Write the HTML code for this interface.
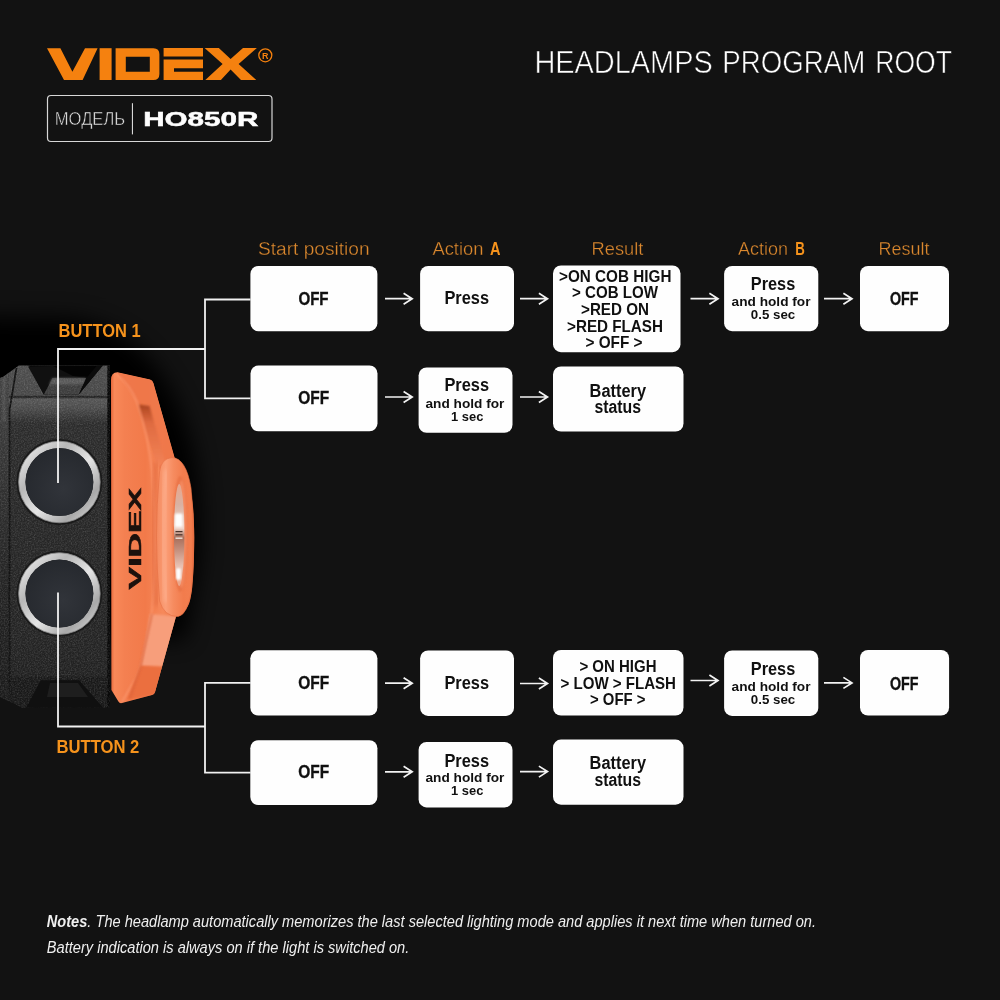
<!DOCTYPE html>
<html><head><meta charset="utf-8"><title>Headlamps program root</title>
<style>
html,body{margin:0;padding:0;background:#121212;}
body{width:1000px;height:1000px;overflow:hidden;font-family:"Liberation Sans",sans-serif;}
svg{display:block;font-family:"Liberation Sans",sans-serif;}
</style></head><body>
<svg width="1000" height="1000" viewBox="0 0 1000 1000">
<rect width="1000" height="1000" fill="#121212"/>
<g style="will-change:opacity" opacity="0.9999">
<defs>
<filter id="blurBig" x="-50%" y="-50%" width="200%" height="200%"><feGaussianBlur stdDeviation="11"/></filter>
<filter id="blur1" x="-20%" y="-20%" width="140%" height="140%"><feGaussianBlur stdDeviation="1"/></filter>
<filter id="blur2" x="-20%" y="-20%" width="140%" height="140%"><feGaussianBlur stdDeviation="2.2"/></filter>
<filter id="blur4" x="-30%" y="-30%" width="160%" height="160%"><feGaussianBlur stdDeviation="4"/></filter>
<filter id="grain" x="0" y="0" width="100%" height="100%">
  <feTurbulence type="fractalNoise" baseFrequency="0.7" numOctaves="2" seed="7" result="n"/>
  <feColorMatrix in="n" type="matrix" values="0 0 0 0 1  0 0 0 0 1  0 0 0 0 1  0.9 0.9 0.9 0 -1.15" result="a"/>
  <feComposite in="a" in2="SourceGraphic" operator="in"/>
</filter>
<linearGradient id="bodyV" x1="0" y1="365" x2="0" y2="708" gradientUnits="userSpaceOnUse">
  <stop offset="0" stop-color="#4e4e4e"/>
  <stop offset="0.088" stop-color="#484848"/>
  <stop offset="0.093" stop-color="#1a1a1a"/>
  <stop offset="0.099" stop-color="#565656"/>
  <stop offset="0.125" stop-color="#4c4c4c"/>
  <stop offset="0.17" stop-color="#2d2d2d"/>
  <stop offset="0.5" stop-color="#282828"/>
  <stop offset="0.8" stop-color="#252525"/>
  <stop offset="0.905" stop-color="#222222"/>
  <stop offset="0.912" stop-color="#1a1a1a"/>
  <stop offset="1" stop-color="#191919"/>
</linearGradient>
<linearGradient id="orangeH" x1="111" y1="0" x2="180" y2="0" gradientUnits="userSpaceOnUse">
  <stop offset="0" stop-color="#e8693c"/>
  <stop offset="0.05" stop-color="#fa8a5a"/>
  <stop offset="0.2" stop-color="#f58152"/>
  <stop offset="0.5" stop-color="#f37b4b"/>
  <stop offset="0.75" stop-color="#f78a5c"/>
  <stop offset="1" stop-color="#ee7444"/>
</linearGradient>
<linearGradient id="ringH" x1="150" y1="0" x2="195" y2="0" gradientUnits="userSpaceOnUse">
  <stop offset="0" stop-color="#f68a5c"/>
  <stop offset="0.35" stop-color="#fb9468"/>
  <stop offset="0.6" stop-color="#f37d4e"/>
  <stop offset="0.85" stop-color="#f58252"/>
  <stop offset="1" stop-color="#e56a3c"/>
</linearGradient>
<linearGradient id="ringH2" x1="156" y1="0" x2="195" y2="0" gradientUnits="userSpaceOnUse">
  <stop offset="0" stop-color="#f58a5e"/>
  <stop offset="0.25" stop-color="#fc9f78"/>
  <stop offset="0.45" stop-color="#f78c60"/>
  <stop offset="0.7" stop-color="#f37d4e"/>
  <stop offset="0.9" stop-color="#f47f50"/>
  <stop offset="1" stop-color="#e3683a"/>
</linearGradient>
<linearGradient id="silver" x1="0" y1="0" x2="1" y2="1">
  <stop offset="0" stop-color="#f2f2f2"/>
  <stop offset="0.3" stop-color="#b9b9b9"/>
  <stop offset="0.55" stop-color="#e6e6e6"/>
  <stop offset="0.8" stop-color="#a9a9a9"/>
  <stop offset="1" stop-color="#dedede"/>
</linearGradient>
<radialGradient id="btn" cx="0.55" cy="0.6" r="0.7">
  <stop offset="0" stop-color="#32353b"/>
  <stop offset="1" stop-color="#25282d"/>
</radialGradient>
<linearGradient id="lens" x1="0" y1="486" x2="0" y2="580" gradientUnits="userSpaceOnUse">
  <stop offset="0" stop-color="#e9a88e"/>
  <stop offset="0.2" stop-color="#d9b3a4"/>
  <stop offset="0.45" stop-color="#f0d6cc"/>
  <stop offset="0.55" stop-color="#a8705c"/>
  <stop offset="0.7" stop-color="#c99684"/>
  <stop offset="0.85" stop-color="#e8c2b4"/>
  <stop offset="1" stop-color="#eda88c"/>
</linearGradient>
<clipPath id="orangeClip"><path d="M111 380 Q111 372.5 117.5 372.3 L150 379.4 Q152.6 380 153.4 383 L175 459 Q194 470 194.2 537 Q194 596 188 606 Q183 614 176 616.5 L155 692 Q154.4 694.4 152 695 L122 703 Q119.6 703.6 118.4 701.6 L111.4 690 Z"/></clipPath>
<clipPath id="bodyClip"><path d="M0 378 L3 377 L18.8 365.6 H110 V707.8 H22 L0 697 Z"/></clipPath>
</defs>
<!-- dark halo behind photo -->
<path d="M-40 316 L70 318 Q120 325 150 360 Q180 395 193 450 Q204 500 200 560 L185 640 L-40 640 Z" fill="#000" filter="url(#blurBig)"/>
<!-- body -->
<g clip-path="url(#bodyClip)">
  <rect x="0" y="360" width="112" height="350" fill="url(#bodyV)"/>
  <!-- left bevel strip -->
  <linearGradient id="stripV" x1="0" y1="372" x2="0" y2="702" gradientUnits="userSpaceOnUse"><stop offset="0" stop-color="#444"/><stop offset="0.3" stop-color="#343434"/><stop offset="0.6" stop-color="#262626"/><stop offset="1" stop-color="#1c1c1c"/></linearGradient><rect x="0" y="372" width="9" height="330" fill="url(#stripV)"/>
  <rect x="2.5" y="376" width="3" height="45" fill="#5a5a5a" opacity="0.7" filter="url(#blur1)"/>
  <path d="M16.5 368 L9.5 410 V690" fill="none" stroke="#121212" stroke-width="1.8"/>
  <!-- right dark edge -->
  <rect x="107.3" y="360" width="5" height="350" fill="#0a0a0a"/>
  <!-- grain -->
  <rect x="0" y="360" width="112" height="350" fill="#fff" filter="url(#grain)" opacity="0.2"/>
  <!-- top notch (open to black background) -->
  <path d="M28 364 L43.8 394.6 H78.8 L103.8 364 Z" fill="#040404"/>
  <path d="M28 366.5 L53 366 L72.5 375.8 L86.3 378 L52.5 378 L43.8 394.6 Z" fill="#111111"/>
  <path d="M52.5 378 H86.3 L78.8 394.6 H43.8 Z" fill="#3e3e3e"/>
  <path d="M52.5 378 H86.3 L83.5 384.5 H49 Z" fill="#5a5a5a" filter="url(#blur1)"/>
  <path d="M52.5 378 H86.3 L78.8 394.6 H43.8 Z" fill="#fff" filter="url(#grain)" opacity="0.16"/>
  <path d="M86.3 378 L96.5 366 L103.8 364.5 L78.8 394.6 Z" fill="#0c0c0c"/>
  <!-- bottom notch -->
  <path d="M40.7 680.3 H79.2 L103.4 708 H26 Z" fill="#111111"/>
  <path d="M50 683 H78 L88 697 H47 Z" fill="#1f1f1f"/>
</g>
<!-- orange part -->
<path d="M111 380 Q111 372.5 117.5 372.3 L150 379.4 Q152.6 380 153.4 383 L175 459 Q194 470 194.2 537 Q194 596 188 606 Q183 614 176 616.5 L155 692 Q154.4 694.4 152 695 L122 703 Q119.6 703.6 118.4 701.6 L111.4 690 Z" fill="url(#orangeH)"/>
<g clip-path="url(#orangeClip)">
<!-- face ridge / recess shading -->
<linearGradient id="slotV" x1="0" y1="404" x2="0" y2="468" gradientUnits="userSpaceOnUse"><stop offset="0" stop-color="#a84422"/><stop offset="0.12" stop-color="#c2552e"/><stop offset="0.3" stop-color="#e06c42"/><stop offset="1" stop-color="#f58558"/></linearGradient>
<path d="M117 372.5 L150 379.5 Q152.6 380 153.4 383 L175 459 L160 470 L150 443 L136 400 Z" fill="#ef784a" opacity="0.9"/>
<path d="M138.7 404.5 L149.5 406 L162 450 L165 462 L157 468 L151 446 L140.5 414 Z" fill="url(#slotV)" filter="url(#blur1)"/>
<path d="M116.5 374 Q130 385 137 402 Q148 435 152 470 Q157 540 153 600 Q148 650 136 678 L122 702" fill="none" stroke="#ffa079" stroke-width="2.2" opacity="0.55" filter="url(#blur1)"/>
<path d="M113.5 380 V690" fill="none" stroke="#ff9c72" stroke-width="2.5" opacity="0.6" filter="url(#blur1)"/>
<!-- lower recess -->
<path d="M150 614 L180 616.5 L166 667 L140.8 666 Z" fill="#f89f7c" filter="url(#blur1)"/>
<path d="M140.8 666 L168 667 L158 694 L127 700 Z" fill="#ec6f40" filter="url(#blur1)"/>
<path d="M152 614 L140.5 667 L130 698" fill="none" stroke="#d9623a" stroke-width="1.6" opacity="0.8" filter="url(#blur1)"/>
</g>
<!-- lens ring -->
<path d="M156 462 Q150 537 157 606" fill="none" stroke="#e0683c" stroke-width="5" opacity="0.55" filter="url(#blur2)"/>
<path d="M159.5 472 Q161 458.5 172 457.6 Q186 458 191 488 Q196.5 537 191.5 590 Q187.5 615 178 616.6 Q164 616.5 159.6 601 Q153.5 537 159.5 472 Z" fill="url(#ringH2)"/>
<path d="M159.5 472 Q161 458.5 172 457.6 Q186 458 191 488 Q196.5 537 191.5 590 Q187.5 615 178 616.6 Q164 616.5 159.6 601 Q153.5 537 159.5 472 Z" fill="none" stroke="#e67044" stroke-width="1" opacity="0.6"/>
<path d="M166 470 Q160 537 166 602" fill="none" stroke="#ffb596" stroke-width="4" opacity="0.7" filter="url(#blur2)"/>
<ellipse cx="180.2" cy="534" rx="7.2" ry="58" fill="#ea7346" filter="url(#blur1)"/>
<ellipse cx="181.5" cy="534" rx="5.2" ry="54" fill="#f58a60" filter="url(#blur1)"/>
<ellipse cx="179.2" cy="535" rx="5.2" ry="51" fill="url(#lens)"/>
<rect x="174.8" y="513.5" width="7.8" height="13.5" rx="1.5" fill="#ffffff" filter="url(#blur1)"/>
<rect x="176" y="568" width="5" height="12" rx="2" fill="#ffffff" filter="url(#blur1)"/>
<rect x="175.5" y="531" width="7" height="1.2" fill="#4a342c"/><rect x="175.5" y="534.2" width="7" height="1.2" fill="#4a342c"/><rect x="175.5" y="537.4" width="7" height="1.6" fill="#e8d8d0"/>
<!-- VIDEX on lamp -->
<text transform="translate(141.3 589.4) rotate(-90)" font-size="16.6" font-weight="bold" fill="#1d120e" stroke="#1d120e" stroke-width="0.5" textLength="101.5" lengthAdjust="spacingAndGlyphs">VIDEX</text>
<!-- buttons -->
<circle cx="59.4" cy="482" r="43" fill="#1b1b1b"/>
<circle cx="59.4" cy="482" r="37.3" fill="none" stroke="url(#silver)" stroke-width="7"/>
<circle cx="59.4" cy="482" r="40.8" fill="none" stroke="#8a8a8a" stroke-width="0.8"/>
<circle cx="59.4" cy="482" r="34" fill="url(#btn)"/>
<circle cx="59.4" cy="593.6" r="43" fill="#1b1b1b"/>
<circle cx="59.4" cy="593.6" r="37.3" fill="none" stroke="url(#silver)" stroke-width="7"/>
<circle cx="59.4" cy="593.6" r="40.8" fill="none" stroke="#8a8a8a" stroke-width="0.8"/>
<circle cx="59.4" cy="593.6" r="34" fill="url(#btn)"/>

<g fill="#f6820f">
<path d="M47 48.2 H60.4 L72.4 71.8 L85 48.2 H97.6 L82.6 80 H64 Z"/>
<rect x="99.6" y="48.2" width="12" height="31.8"/>
<path fill-rule="evenodd" d="M115.6 48.2 H153.4 Q159.4 48.2 159.4 54.2 V74 Q159.4 80 153.4 80 H115.6 Z M125.8 56.8 V71.8 H149.8 V56.8 Z"/>
<path d="M163.6 48 H203 V56.6 H163.6 Z M163.6 59.5 H203 V68.3 H174 V71.8 H203 V80 H163.6 Z"/>
<path d="M204.6 48 H218.8 L230.6 59 L243 48 H256.9 L238.6 64 L256.3 80 H241 L230.6 69.5 L220.9 80 H205.3 L222.6 64 Z"/>
</g>
<circle cx="265.3" cy="55.3" r="6.5" fill="none" stroke="#f6820f" stroke-width="1.3"/>
<text x="265.3" y="58.6" font-size="9" font-weight="bold" fill="#f6820f" text-anchor="middle">R</text>

<rect x="47.5" y="95.5" width="224.5" height="46" rx="3.5" fill="none" stroke="#d8d8d8" stroke-width="1.2"/>
<rect x="131.9" y="103.2" width="1.1" height="31.2" fill="#d8d8d8"/>
<text x="54.80" y="124.80" font-size="18.4" font-weight="normal" fill="#e2e2e2" textLength="70.40" lengthAdjust="spacingAndGlyphs"  stroke="#121212" stroke-width="0.5">МОДЕЛЬ</text>
<text x="143.20" y="125.80" font-size="19.6" font-weight="bold" fill="#ffffff" textLength="115.20" lengthAdjust="spacingAndGlyphs"  stroke="#ffffff" stroke-width="0.5">HO850R</text>
<text x="534.40" y="72.80" font-size="31.4" font-weight="normal" fill="#ffffff" textLength="178.40" lengthAdjust="spacingAndGlyphs"  stroke="#121212" stroke-width="0.6">HEADLAMPS</text>
<text x="722.30" y="72.80" font-size="31.4" font-weight="normal" fill="#ffffff" textLength="142.90" lengthAdjust="spacingAndGlyphs"  stroke="#121212" stroke-width="0.6">PROGRAM</text>
<text x="875.30" y="72.80" font-size="31.4" font-weight="normal" fill="#ffffff" textLength="76.60" lengthAdjust="spacingAndGlyphs"  stroke="#121212" stroke-width="0.6">ROOT</text>
<text x="258.00" y="254.60" font-size="18" font-weight="normal" fill="#dd8a30" textLength="111.60" lengthAdjust="spacingAndGlyphs"  stroke="#121212" stroke-width="0.3">Start position</text>
<text x="432.40" y="255.00" font-size="18" font-weight="normal" fill="#dd8a30" textLength="51.00" lengthAdjust="spacingAndGlyphs"  stroke="#121212" stroke-width="0.3">Action</text>
<text x="490.00" y="255.00" font-size="18" font-weight="bold" fill="#f7941d" textLength="10.50" lengthAdjust="spacingAndGlyphs"  >A</text>
<text x="591.60" y="255.20" font-size="18" font-weight="normal" fill="#dd8a30" textLength="51.80" lengthAdjust="spacingAndGlyphs"  stroke="#121212" stroke-width="0.3">Result</text>
<text x="738.00" y="255.20" font-size="18" font-weight="normal" fill="#dd8a30" textLength="50.00" lengthAdjust="spacingAndGlyphs"  stroke="#121212" stroke-width="0.3">Action</text>
<text x="795.20" y="255.20" font-size="18" font-weight="bold" fill="#f7941d" textLength="9.60" lengthAdjust="spacingAndGlyphs"  >B</text>
<text x="878.40" y="255.20" font-size="18" font-weight="normal" fill="#dd8a30" textLength="51.00" lengthAdjust="spacingAndGlyphs"  stroke="#121212" stroke-width="0.3">Result</text>
<text x="58.60" y="337.00" font-size="18.6" font-weight="bold" fill="#f7941d" textLength="82.00" lengthAdjust="spacingAndGlyphs"  >BUTTON 1</text>
<text x="56.40" y="752.80" font-size="18.6" font-weight="bold" fill="#f7941d" textLength="83.00" lengthAdjust="spacingAndGlyphs"  >BUTTON 2</text>
<path d="M58 483 V349 H205 M250.5 299.5 H205 V398.3 H250.5" fill="none" stroke="#f2f2f2" stroke-width="1.8"/>
<path d="M58 592.5 V726.5 H205 M250.5 682.8 H205 V772.6 H250.5" fill="none" stroke="#f2f2f2" stroke-width="1.8"/>
<rect x="250.4" y="266" width="127.00" height="65.20" rx="8" ry="8" fill="#ffffff"/>
<text x="298.40" y="305.00" font-size="18" font-weight="bold" fill="#111111" textLength="30.20" lengthAdjust="spacingAndGlyphs"  stroke="#111111" stroke-width="0.35">OFF</text>
<path d="M385 298.7 H411.7 M403.59999999999997 293.2 L412.2 298.7 L403.59999999999997 304.2" fill="none" stroke="#f4f4f4" stroke-width="1.7" stroke-linejoin="miter"/>
<rect x="420.1" y="266" width="93.90" height="65.20" rx="8" ry="8" fill="#ffffff"/>
<text x="444.40" y="304.40" font-size="18" font-weight="bold" fill="#111111" textLength="44.70" lengthAdjust="spacingAndGlyphs"  >Press</text>
<path d="M520 298.7 H547.0 M538.9 293.2 L547.5 298.7 L538.9 304.2" fill="none" stroke="#f4f4f4" stroke-width="1.7" stroke-linejoin="miter"/>
<rect x="553" y="265.4" width="127.50" height="86.80" rx="8" ry="8" fill="#ffffff"/>
<text x="559.00" y="281.60" font-size="16.5" font-weight="bold" fill="#111111" textLength="112.50" lengthAdjust="spacingAndGlyphs"  >&gt;ON COB HIGH</text>
<text x="572.00" y="297.90" font-size="16.5" font-weight="bold" fill="#111111" textLength="86.00" lengthAdjust="spacingAndGlyphs"  >&gt; COB LOW</text>
<text x="581.00" y="315.00" font-size="16.5" font-weight="bold" fill="#111111" textLength="68.00" lengthAdjust="spacingAndGlyphs"  >&gt;RED ON</text>
<text x="567.00" y="331.70" font-size="16.5" font-weight="bold" fill="#111111" textLength="96.00" lengthAdjust="spacingAndGlyphs"  >&gt;RED FLASH</text>
<text x="585.50" y="348.20" font-size="16.5" font-weight="bold" fill="#111111" textLength="57.00" lengthAdjust="spacingAndGlyphs"  >&gt; OFF &gt;</text>
<path d="M690.5 298.7 H717.5 M709.4 293.2 L718 298.7 L709.4 304.2" fill="none" stroke="#f4f4f4" stroke-width="1.7" stroke-linejoin="miter"/>
<rect x="724.1" y="266" width="94.20" height="65.20" rx="8" ry="8" fill="#ffffff"/>
<text x="750.80" y="290.20" font-size="18" font-weight="bold" fill="#111111" textLength="44.40" lengthAdjust="spacingAndGlyphs"  >Press</text>
<text x="731.60" y="306.00" font-size="13" font-weight="bold" fill="#111111" textLength="78.90" lengthAdjust="spacingAndGlyphs"  >and hold for</text>
<text x="750.80" y="318.80" font-size="13" font-weight="bold" fill="#111111" textLength="44.40" lengthAdjust="spacingAndGlyphs"  >0.5 sec</text>
<path d="M824 298.7 H851.5 M843.4 293.2 L852 298.7 L843.4 304.2" fill="none" stroke="#f4f4f4" stroke-width="1.7" stroke-linejoin="miter"/>
<rect x="860" y="266" width="89.00" height="65.20" rx="8" ry="8" fill="#ffffff"/>
<text x="890.00" y="305.00" font-size="18" font-weight="bold" fill="#111111" textLength="28.50" lengthAdjust="spacingAndGlyphs"  stroke="#111111" stroke-width="0.35">OFF</text>
<rect x="250.5" y="365.5" width="127.00" height="65.80" rx="8" ry="8" fill="#ffffff"/>
<text x="298.30" y="404.10" font-size="18" font-weight="bold" fill="#111111" textLength="30.90" lengthAdjust="spacingAndGlyphs"  stroke="#111111" stroke-width="0.35">OFF</text>
<path d="M385 397 H411.7 M403.59999999999997 391.5 L412.2 397 L403.59999999999997 402.5" fill="none" stroke="#f4f4f4" stroke-width="1.7" stroke-linejoin="miter"/>
<rect x="418.6" y="367.4" width="93.90" height="65.40" rx="8" ry="8" fill="#ffffff"/>
<text x="444.40" y="391.40" font-size="18" font-weight="bold" fill="#111111" textLength="44.70" lengthAdjust="spacingAndGlyphs"  >Press</text>
<text x="425.50" y="407.60" font-size="13" font-weight="bold" fill="#111111" textLength="78.90" lengthAdjust="spacingAndGlyphs"  >and hold for</text>
<text x="451.00" y="420.50" font-size="13" font-weight="bold" fill="#111111" textLength="32.40" lengthAdjust="spacingAndGlyphs"  >1 sec</text>
<path d="M520 397 H547.0 M538.9 391.5 L547.5 397 L538.9 402.5" fill="none" stroke="#f4f4f4" stroke-width="1.7" stroke-linejoin="miter"/>
<rect x="553" y="366.5" width="130.50" height="65.10" rx="8" ry="8" fill="#ffffff"/>
<text x="589.60" y="396.50" font-size="17.5" font-weight="bold" fill="#111111" textLength="56.40" lengthAdjust="spacingAndGlyphs"  >Battery</text>
<text x="594.40" y="413.00" font-size="17.5" font-weight="bold" fill="#111111" textLength="46.60" lengthAdjust="spacingAndGlyphs"  >status</text>
<rect x="250.3" y="650.3" width="127.10" height="65.30" rx="8" ry="8" fill="#ffffff"/>
<text x="298.30" y="689.10" font-size="18" font-weight="bold" fill="#111111" textLength="30.90" lengthAdjust="spacingAndGlyphs"  stroke="#111111" stroke-width="0.35">OFF</text>
<path d="M385 683.2 H411.7 M403.59999999999997 677.7 L412.2 683.2 L403.59999999999997 688.7" fill="none" stroke="#f4f4f4" stroke-width="1.7" stroke-linejoin="miter"/>
<rect x="420.1" y="650.5" width="93.90" height="65.40" rx="8" ry="8" fill="#ffffff"/>
<text x="444.40" y="688.90" font-size="18" font-weight="bold" fill="#111111" textLength="44.70" lengthAdjust="spacingAndGlyphs"  >Press</text>
<path d="M520 683.5 H547.0 M538.9 678.0 L547.5 683.5 L538.9 689.0" fill="none" stroke="#f4f4f4" stroke-width="1.7" stroke-linejoin="miter"/>
<rect x="553" y="649.9" width="130.50" height="65.70" rx="8" ry="8" fill="#ffffff"/>
<text x="579.40" y="672.40" font-size="16.5" font-weight="bold" fill="#111111" textLength="77.10" lengthAdjust="spacingAndGlyphs"  >&gt; ON HIGH</text>
<text x="560.50" y="688.90" font-size="16.5" font-weight="bold" fill="#111111" textLength="115.50" lengthAdjust="spacingAndGlyphs"  >&gt; LOW &gt; FLASH</text>
<text x="590.00" y="705.40" font-size="16.5" font-weight="bold" fill="#111111" textLength="55.40" lengthAdjust="spacingAndGlyphs"  >&gt; OFF &gt;</text>
<path d="M690.5 680.5 H717.5 M709.4 675.0 L718 680.5 L709.4 686.0" fill="none" stroke="#f4f4f4" stroke-width="1.7" stroke-linejoin="miter"/>
<rect x="724.1" y="650.5" width="94.20" height="65.40" rx="8" ry="8" fill="#ffffff"/>
<text x="750.80" y="675.40" font-size="18" font-weight="bold" fill="#111111" textLength="44.40" lengthAdjust="spacingAndGlyphs"  >Press</text>
<text x="731.60" y="691.00" font-size="13" font-weight="bold" fill="#111111" textLength="78.90" lengthAdjust="spacingAndGlyphs"  >and hold for</text>
<text x="750.80" y="703.90" font-size="13" font-weight="bold" fill="#111111" textLength="44.40" lengthAdjust="spacingAndGlyphs"  >0.5 sec</text>
<path d="M824 682.9 H851.5 M843.4 677.4 L852 682.9 L843.4 688.4" fill="none" stroke="#f4f4f4" stroke-width="1.7" stroke-linejoin="miter"/>
<rect x="860" y="649.9" width="89.10" height="65.70" rx="8" ry="8" fill="#ffffff"/>
<text x="890.00" y="689.50" font-size="18" font-weight="bold" fill="#111111" textLength="28.50" lengthAdjust="spacingAndGlyphs"  stroke="#111111" stroke-width="0.35">OFF</text>
<rect x="250.3" y="740.2" width="127.10" height="64.80" rx="8" ry="8" fill="#ffffff"/>
<text x="298.30" y="777.90" font-size="18" font-weight="bold" fill="#111111" textLength="30.90" lengthAdjust="spacingAndGlyphs"  stroke="#111111" stroke-width="0.35">OFF</text>
<path d="M385 771.8 H411.7 M403.59999999999997 766.3 L412.2 771.8 L403.59999999999997 777.3" fill="none" stroke="#f4f4f4" stroke-width="1.7" stroke-linejoin="miter"/>
<rect x="418.6" y="742" width="93.90" height="65.40" rx="8" ry="8" fill="#ffffff"/>
<text x="444.40" y="766.60" font-size="18" font-weight="bold" fill="#111111" textLength="44.70" lengthAdjust="spacingAndGlyphs"  >Press</text>
<text x="425.50" y="781.60" font-size="13" font-weight="bold" fill="#111111" textLength="78.90" lengthAdjust="spacingAndGlyphs"  >and hold for</text>
<text x="451.00" y="794.50" font-size="13" font-weight="bold" fill="#111111" textLength="32.40" lengthAdjust="spacingAndGlyphs"  >1 sec</text>
<path d="M520 771.6 H547.0 M538.9 766.1 L547.5 771.6 L538.9 777.1" fill="none" stroke="#f4f4f4" stroke-width="1.7" stroke-linejoin="miter"/>
<rect x="553" y="739.6" width="130.50" height="65.10" rx="8" ry="8" fill="#ffffff"/>
<text x="589.60" y="769.00" font-size="17.5" font-weight="bold" fill="#111111" textLength="56.40" lengthAdjust="spacingAndGlyphs"  >Battery</text>
<text x="594.40" y="785.50" font-size="17.5" font-weight="bold" fill="#111111" textLength="46.60" lengthAdjust="spacingAndGlyphs"  >status</text>
<text x="46.8" y="927.2" font-size="16.3" font-style="italic" fill="#f0f0f0" textLength="769.2" lengthAdjust="spacingAndGlyphs"><tspan font-weight="bold">Notes</tspan>. The headlamp automatically memorizes the last selected lighting mode and applies it next time when turned on.</text>
<text x="46.8" y="952.8" font-size="16.3" font-style="italic" fill="#f0f0f0" textLength="362.5" lengthAdjust="spacingAndGlyphs">Battery indication is always on if the light is switched on.</text>
</g>
</svg>
</body></html>
